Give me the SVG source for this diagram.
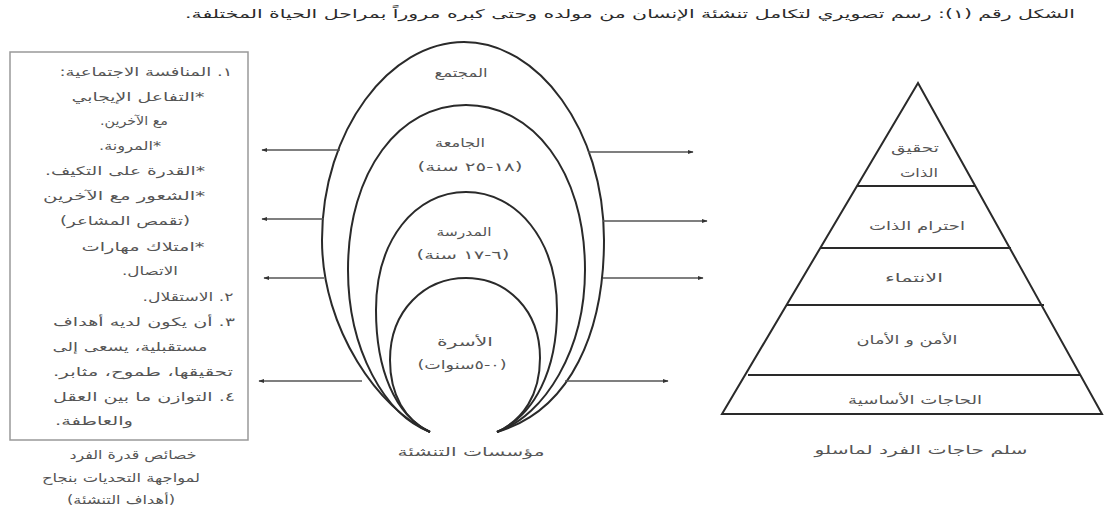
<svg xmlns="http://www.w3.org/2000/svg" width="1104" height="513" viewBox="0 0 1104 513">
<style>
text{font-family:'DejaVu Sans',sans-serif;font-size:12px;fill:#555;text-anchor:middle;direction:rtl}
.t{font-size:12px;fill:#2a2a2a}
.c{stroke:#2a2a2a;stroke-width:2;fill:none}
.p{stroke:#2a2a2a;stroke-width:2;fill:none}
.a{stroke:#555;stroke-width:1.5;fill:none;marker-end:url(#ah)}
</style>
<defs>
<marker id="ah" viewBox="0 0 10 10" refX="9" refY="5" markerWidth="6" markerHeight="6" markerUnits="userSpaceOnUse" orient="auto"><path d="M0 1.5 L10 5 L0 8.5 Z" fill="#333"/></marker>
</defs>
<rect width="1104" height="513" fill="#fff"/>
<text class="t" x="630" y="18" textLength="890" lengthAdjust="spacingAndGlyphs">الشكل رقم (١): رسم تصويري لتكامل تنشئة الإنسان من مولده وحتى كبره مروراً بمراحل الحياة المختلفة.</text>

<g id="goals">
<rect x="10" y="52" width="238" height="388" fill="#fff" stroke="#999" stroke-width="1.5"/>
<text x="146" y="76" textLength="173" lengthAdjust="spacingAndGlyphs">١. المنافسة الاجتماعية:</text>
<text x="138" y="101" textLength="133" lengthAdjust="spacingAndGlyphs">*التفاعل الإيجابي</text>
<text x="134" y="125" textLength="68" lengthAdjust="spacingAndGlyphs">مع الآخرين.</text>
<text x="130" y="150" textLength="62" lengthAdjust="spacingAndGlyphs">*المرونة.</text>
<text x="125" y="175" textLength="160" lengthAdjust="spacingAndGlyphs">*القدرة على التكيف.</text>
<text x="124" y="200" textLength="162" lengthAdjust="spacingAndGlyphs">*الشعور مع الآخرين</text>
<text x="125" y="225" textLength="130" lengthAdjust="spacingAndGlyphs">(تقمص المشاعر)</text>
<text x="143" y="251" textLength="123" lengthAdjust="spacingAndGlyphs">*امتلاك مهارات</text>
<text x="150" y="275" textLength="56" lengthAdjust="spacingAndGlyphs">الاتصال.</text>
<text x="188" y="301" textLength="91" lengthAdjust="spacingAndGlyphs">٢. الاستقلال.</text>
<text x="144" y="326" textLength="182" lengthAdjust="spacingAndGlyphs">٣. أن يكون لديه أهداف</text>
<text x="130" y="351" textLength="155" lengthAdjust="spacingAndGlyphs">مستقبلية، يسعى إلى</text>
<text x="143" y="376" textLength="180" lengthAdjust="spacingAndGlyphs">تحقيقها، طموح، مثابر.</text>
<text x="144" y="401" textLength="182" lengthAdjust="spacingAndGlyphs">٤. التوازن ما بين العقل</text>
<text x="94" y="425" textLength="78" lengthAdjust="spacingAndGlyphs">والعاطفة.</text>
<text x="133" y="459" textLength="127" lengthAdjust="spacingAndGlyphs">خصائص قدرة الفرد</text>
<text x="121" y="482" textLength="158" lengthAdjust="spacingAndGlyphs">لمواجهة التحديات بنجاح</text>
<text x="121" y="504" textLength="108" lengthAdjust="spacingAndGlyphs">(أهداف التنشئة)</text>
</g>

<g id="society">
<path class="c" d="M430 432 C380 410 322 330 322 240 C322 130 390 42 464 42 C538 42 604 130 604 240 C604 330 572 410 497 432"/>
<text x="461" y="77" textLength="53" lengthAdjust="spacingAndGlyphs">المجتمع</text>
</g>
<g id="university">
<path class="c" d="M430 432 C385 415 348 350 348 270 C348 170 400 105 466 105 C532 105 585 170 585 270 C585 350 545 415 497 432"/>
<text x="460" y="147" textLength="50" lengthAdjust="spacingAndGlyphs">الجامعة</text>
<text x="470" y="171" textLength="105" lengthAdjust="spacingAndGlyphs">(١٨-٢٥ سنة)</text>
</g>
<g id="school">
<path class="c" d="M430 432 C395 415 376 370 376 310 C376 240 415 192 466 192 C517 192 557 240 557 310 C557 370 535 415 497 432"/>
<text x="464" y="236" textLength="55" lengthAdjust="spacingAndGlyphs">المدرسة</text>
<text x="463" y="259" textLength="93" lengthAdjust="spacingAndGlyphs">(٦-١٧ سنة)</text>
</g>
<g id="family">
<path class="c" d="M430 432 C405 420 390 395 390 360 C390 310 425 278 466 278 C507 278 540 310 540 358 C540 395 523 420 497 432"/>
<text x="465" y="346" textLength="56" lengthAdjust="spacingAndGlyphs">الأسرة</text>
<text x="462" y="369" textLength="89" lengthAdjust="spacingAndGlyphs">(٠-٥سنوات)</text>
</g>
<text x="471" y="456" textLength="147" lengthAdjust="spacingAndGlyphs">مؤسسات التنشئة</text>

<g id="connectors">
<line class="a" x1="340" y1="150" x2="262" y2="150"/>
<line class="a" x1="324" y1="219" x2="262" y2="219"/>
<line class="a" x1="324" y1="278" x2="264" y2="278"/>
<line class="a" x1="362" y1="381" x2="259" y2="381"/>
<line class="a" x1="588" y1="152" x2="693" y2="152"/>
<line class="a" x1="603" y1="221" x2="707" y2="221"/>
<line class="a" x1="603" y1="278" x2="703" y2="278"/>
<line class="a" x1="565" y1="381" x2="668" y2="381"/>
</g>

<g id="pyramid">
<path class="p" d="M918 83 L1102 414 L722 414 Z"/>
<line class="p" x1="857" y1="186" x2="975" y2="186"/>
<line class="p" x1="820" y1="248" x2="1011" y2="248"/>
<line class="p" x1="787" y1="305" x2="1044" y2="305"/>
<line class="p" x1="748" y1="375" x2="1081" y2="375"/>
</g>
<g id="self-actualization"><text x="915" y="152" textLength="48" lengthAdjust="spacingAndGlyphs">تحقيق</text><text x="919" y="177" textLength="38" lengthAdjust="spacingAndGlyphs">الذات</text></g>
<g id="esteem"><text x="917" y="230" textLength="96" lengthAdjust="spacingAndGlyphs">احترام الذات</text></g>
<g id="belonging"><text x="914" y="282" textLength="58" lengthAdjust="spacingAndGlyphs">الانتماء</text></g>
<g id="safety"><text x="907" y="344" textLength="101" lengthAdjust="spacingAndGlyphs">الأمن و الأمان</text></g>
<g id="physiological"><text x="915" y="404" textLength="134" lengthAdjust="spacingAndGlyphs">الحاجات الأساسية</text></g>
<text x="921" y="454" textLength="213" lengthAdjust="spacingAndGlyphs">سلم حاجات الفرد لماسلو</text>
</svg>
